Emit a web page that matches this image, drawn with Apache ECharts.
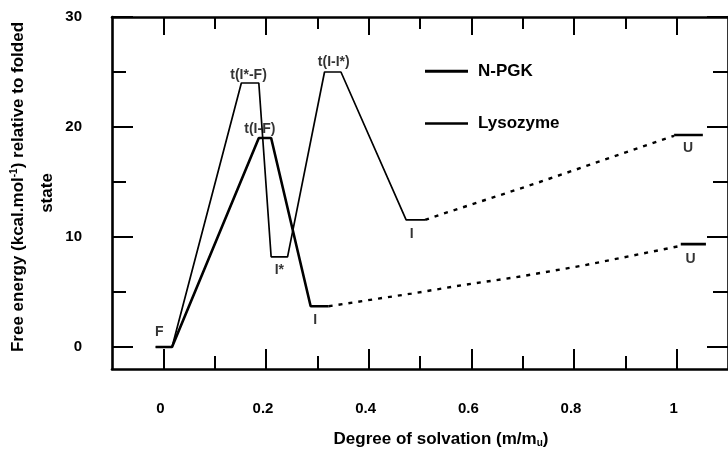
<!DOCTYPE html>
<html>
<head>
<meta charset="utf-8">
<script src="https://cdn.jsdelivr.net/npm/echarts@6/dist/echarts.min.js"></script>
<style>
html,body{margin:0;padding:0;background:#fff;}
#chart{width:728px;height:450px;}
</style>
</head>
<body>
<div id="chart"></div>
<script>
// ---- data ----
const xMajor = [0, 0.2, 0.4, 0.6, 0.8, 1];
const xMinor = [0.1, 0.3, 0.5, 0.7, 0.9];
const yMajor = [0, 10, 20, 30];
const yMinor = [5, 15, 25];

const npgkFolding   = [[-0.015,0],[0.017,0],[0.186,19],[0.210,19],[0.287,3.7],[0.322,3.7]];
const npgkUnfolding = [[0.322,3.7],[0.419,4.4],[0.483,4.85],[0.586,5.65],[0.688,6.35],[0.817,7.4],[0.913,8.3],[1.008,9.2]];
const npgkU         = [[1.008,9.35],[1.057,9.35]];

const lysoFolding   = [[-0.015,0],[0.017,0],[0.152,24],[0.186,24],[0.210,8.2],[0.242,8.2],[0.314,25],[0.346,25],[0.473,11.55],[0.510,11.55]];
const lysoUnfolding = [[0.510,11.55],[0.528,11.85],[0.724,14.85],[0.995,19.2]];
const lysoU         = [[0.995,19.27],[1.051,19.27]];

const labelText = ['F','t(I*-F)','t(I-F)','t(I-I*)','I*','I','I','U','U'];
const labelX    = [-0.008, 0.166, 0.188, 0.332, 0.226, 0.296, 0.484, 1.027, 1.022];
const labelY    = [1.39, 24.7, 19.8, 25.9, 7.0, 2.45, 10.25, 8.0, 18.05];

// ---- chart ----
const FONT = '"Liberation Sans", Arial, Helvetica, sans-serif';
const chart = echarts.init(document.getElementById('chart'), null, {renderer:'canvas'});

const fmt = v => String(+(+v).toFixed(1));

function xAx(pos, ticks, len, line, labels) {
  return {
    type:'value', position:pos, min:-0.1, max:1.1,
    axisLine:{show:line, onZero:false, lineStyle:{color:'#000', width:2.6}},
    axisTick:{show:true, inside:true, length:len, customValues:ticks, lineStyle:{color:'#000', width:2}},
    axisLabel:{show:labels, customValues:ticks, formatter:fmt, margin:32, padding:[0,6,0,0],
               color:'#000', fontSize:15, fontWeight:'bold', fontFamily:FONT},
    splitLine:{show:false}
  };
}
function yAx(pos, ticks, len, line, labels) {
  return {
    type:'value', position:pos, min:-2, max:30,
    axisLine:{show:line, onZero:false, lineStyle:{color:'#000', width:2.6}},
    axisTick:{show:true, inside:true, length:len, customValues:ticks, lineStyle:{color:'#000', width:2}},
    axisLabel:{show:labels, customValues:ticks, formatter:fmt, margin:30,
               color:'#000', fontSize:15, fontWeight:'bold', fontFamily:FONT},
    splitLine:{show:false}
  };
}

function lineSeries(name, data, width, dashed) {
  return {
    name:name, type:'line', data:data, symbol:'none', silent:true,
    xAxisIndex:0, yAxisIndex:0,
    lineStyle:{color:'#000', width:width, type: dashed ? [4,6] : 'solid'},
    itemStyle:{color:'#000'},
    z:3
  };
}

const labelData = labelText.map((t,i) => ({name:t, value:[labelX[i], labelY[i]]}));

function legendOf(name, top, thick) {
  return {
    data:[name], left:425, top:top, orient:'vertical', padding:0,
    icon:'rect', itemWidth:43, itemHeight:thick,
    itemStyle:{color:'#000', borderWidth:0},
    textStyle:{color:'#000', fontSize:17, fontWeight:'bold', fontFamily:FONT, padding:[0,0,0,5]}
  };
}

const option = {
  animation:false,
  backgroundColor:'#fff',
  grid:{left:112, top:17, width:622, height:352, containLabel:false},
  xAxis:[
    xAx('bottom', xMajor, 20, true, true),
    xAx('bottom', xMinor, 13, false, false),
    xAx('top', xMajor, 18, true, false),
    xAx('top', xMinor, 12, false, false)
  ],
  yAxis:[
    yAx('left', yMajor, 21, true, true),
    yAx('left', yMinor, 14, false, false),
    yAx('right', yMajor, 21, true, false),
    yAx('right', yMinor, 15, false, false)
  ],
  legend:[
    legendOf('N-PGK', 62.7, 3),
    legendOf('Lysozyme', 115, 2.4)
  ],
  series:[
    lineSeries('N-PGK', npgkFolding, 2.6, false),
    lineSeries('N-PGK unfolding', npgkUnfolding, 2.4, true),
    lineSeries('N-PGK U', npgkU, 2.6, false),
    lineSeries('Lysozyme', lysoFolding, 1.7, false),
    lineSeries('Lysozyme unfolding', lysoUnfolding, 2.4, true),
    lineSeries('Lysozyme U', lysoU, 2.4, false),
    {
      name:'states', type:'scatter', data:labelData, symbolSize:1, silent:true,
      itemStyle:{color:'rgba(0,0,0,0)'},
      label:{show:true, position:'inside', formatter:p => p.name,
             color:'#000', fontSize:14, fontWeight:'bold', fontFamily:FONT},
      z:4
    }
  ],
  graphic:[
    {type:'text', x:441, y:439, silent:true,
     style:{text:'Degree of solvation (m/m{sub|u})', fill:'#000',
            font:'bold 17px ' + FONT, align:'center', verticalAlign:'middle',
            rich:{sub:{fontSize:10, fontWeight:'bold', fontFamily:FONT, fill:'#000', padding:[8,0,0,0]}}}},
    {type:'text', x:18, y:187, rotation:Math.PI/2, silent:true,
     style:{text:'Free energy (kcal.mol{sup|-1}) relative to folded', fill:'#000',
            font:'bold 17px ' + FONT, align:'center', verticalAlign:'middle',
            rich:{sup:{fontSize:10, fontWeight:'bold', fontFamily:FONT, fill:'#000', padding:[0,0,8,0]}}}},
    {type:'text', x:47, y:193, rotation:Math.PI/2, silent:true,
     style:{text:'state', fill:'#000', font:'bold 17px ' + FONT, align:'center', verticalAlign:'middle'}}
  ]
};
chart.setOption(option);
</script>
</body>
</html>
